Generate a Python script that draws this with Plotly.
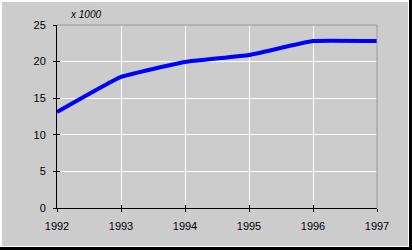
import plotly.graph_objects as go

years = [1992, 1993, 1994, 1995, 1996, 1997]
values = [13.1, 17.9, 19.95, 20.9, 22.8, 22.8]
y_ticks = [0, 5, 10, 15, 20, 25]

W, H = 412, 250
ML, MR, MT, MB = 57, 35, 25, 42
PW, PH = W - ML - MR, H - MT - MB

def px_x(p):
    return (p - ML) / PW

def px_y(p):
    return (H - MB - p) / PH

FONT = "Liberation Sans, Arial, sans-serif"
BG = "#CCCCCC"

fig = go.Figure()
fig.add_trace(go.Scatter(
    x=years, y=values, mode="lines",
    line=dict(color="#0000FF", width=4, shape="spline", smoothing=0.3),
    hoverinfo="skip", showlegend=False,
))
# invisible companion trace so the inside-tick overlay axes are drawn
fig.add_trace(go.Scatter(
    x=years, y=values, mode="lines", xaxis="x2", yaxis="y2",
    line=dict(color="rgba(0,0,0,0)", width=0),
    hoverinfo="skip", showlegend=False,
))

fig.update_layout(
    width=W, height=H,
    margin=dict(l=ML, r=MR, t=MT, b=MB),
    paper_bgcolor=BG, plot_bgcolor=BG,
    font=dict(family=FONT, size=11, color="#000000"),
    xaxis=dict(
        range=[1992, 1997], tickvals=years, ticktext=[str(y) for y in years],
        showgrid=True, gridcolor="#FFFFFF", gridwidth=1,
        showline=True, linecolor="#000000", linewidth=1,
        ticks="outside", ticklen=3, tickcolor="#000000",
        ticklabelstandoff=5,
        zeroline=False, mirror=False, fixedrange=True,
        tickfont=dict(family=FONT, size=11),
    ),
    yaxis=dict(
        range=[0, 25], tickvals=y_ticks,
        showgrid=True, gridcolor="#FFFFFF", gridwidth=1,
        showline=True, linecolor="#000000", linewidth=1,
        ticks="outside", ticklen=3, tickcolor="#000000",
        ticklabelstandoff=5,
        zeroline=False, fixedrange=True,
        tickfont=dict(family=FONT, size=11),
    ),
    xaxis2=dict(
        overlaying="x", range=[1992, 1997], tickvals=years, showticklabels=False,
        showgrid=False, zeroline=False, showline=False, ticks="inside", ticklen=3,
        tickcolor="#000000", anchor="y2", side="bottom", fixedrange=True,
    ),
    yaxis2=dict(
        overlaying="y", range=[0, 25], tickvals=y_ticks, showticklabels=False,
        showgrid=False, zeroline=False, showline=False, ticks="inside", ticklen=3,
        tickcolor="#000000", anchor="x2", side="left", fixedrange=True,
    ),
    shapes=[
        dict(type="line", xref="paper", yref="paper", x0=0, x1=1, y0=1, y1=1,
             line=dict(color="#999999", width=1)),
        dict(type="line", xref="paper", yref="paper", x0=1, x1=1, y0=0, y1=1,
             line=dict(color="#999999", width=1)),
        dict(type="line", xref="paper", yref="paper",
             x0=px_x(1), x1=px_x(1), y0=px_y(0), y1=px_y(250),
             line=dict(color="#FFFFFF", width=2)),
        dict(type="line", xref="paper", yref="paper",
             x0=px_x(0), x1=px_x(412), y0=px_y(1), y1=px_y(1),
             line=dict(color="#FFFFFF", width=2)),
        dict(type="line", xref="paper", yref="paper",
             x0=px_x(408.5), x1=px_x(408.5), y0=px_y(0), y1=px_y(249),
             line=dict(color="#FFFFFF", width=1)),
        dict(type="line", xref="paper", yref="paper",
             x0=px_x(0), x1=px_x(409), y0=px_y(246.5), y1=px_y(246.5),
             line=dict(color="#FFFFFF", width=1)),
        dict(type="line", xref="paper", yref="paper",
             x0=px_x(410.5), x1=px_x(410.5), y0=px_y(0), y1=px_y(250),
             line=dict(color="#000000", width=3)),
        dict(type="line", xref="paper", yref="paper",
             x0=px_x(0), x1=px_x(412), y0=px_y(248.5), y1=px_y(248.5),
             line=dict(color="#000000", width=3)),
    ],
    annotations=[
        dict(text="<i>x 1000</i>", xref="paper", yref="paper",
             x=px_x(68), y=px_y(15), xanchor="left", yanchor="middle",
             showarrow=False, font=dict(family=FONT, size=10, color="#000000")),
    ],
)

fig.write_html("out.html", config={"displayModeBar": False})
